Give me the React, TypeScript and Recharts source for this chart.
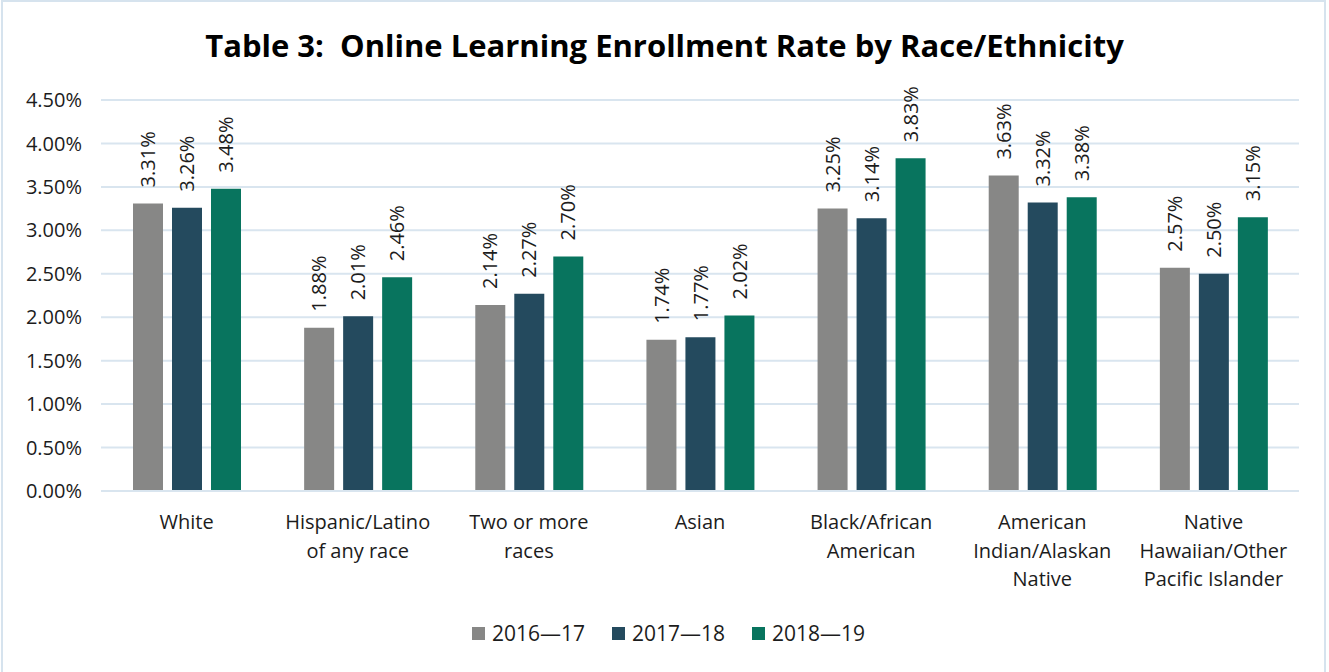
import { BarChart, Bar, XAxis, YAxis, CartesianGrid, Legend, LabelList } from "recharts";

const categories = [
  "White",
  "Hispanic/Latino of any race",
  "Two or more races",
  "Asian",
  "Black/African American",
  "American Indian/Alaskan Native",
  "Native Hawaiian/Other Pacific Islander",
];

// tick labels broken the way the original wraps them
const categoryLines = [
  ["White"],
  ["Hispanic/Latino", "of any race"],
  ["Two or more", "races"],
  ["Asian"],
  ["Black/African", "American"],
  ["American", "Indian/Alaskan", "Native"],
  ["Native", "Hawaiian/Other", "Pacific Islander"],
];

const seriesNames = ["2016\u201417", "2017\u201418", "2018\u201419"];
const rate2016 = [3.31, 1.88, 2.14, 1.74, 3.25, 3.63, 2.57];
const rate2017 = [3.26, 2.01, 2.27, 1.77, 3.14, 3.32, 2.5];
const rate2018 = [3.48, 2.46, 2.7, 2.02, 3.83, 3.38, 3.15];
const yTicks = [0, 0.5, 1, 1.5, 2, 2.5, 3, 3.5, 4, 4.5];

const COLORS = ["#878786", "#244a5e", "#08745e"];
const FONT = "'Open Sans', sans-serif";
const TEXT = "#1c1c1c";
const GRID = "#d9e5ef";

const data = categories.map((name, i) => ({
  name,
  s1: rate2016[i],
  s2: rate2017[i],
  s3: rate2018[i],
}));

const pct = (v: number) => `${v.toFixed(2)}%`;

function CategoryTick(props: any) {
  const { x, y, payload, index } = props;
  const lines = categoryLines[index] ?? [payload.value];
  return (
    <text x={x} y={y} textAnchor="middle" fill={TEXT} fontFamily={FONT} fontSize={20}>
      {lines.map((line: string, i: number) => (
        <tspan key={i} x={x} dy={i === 0 ? "0.72em" : 28.5}>
          {line}
        </tspan>
      ))}
    </text>
  );
}

function ValueLabel(props: any) {
  const { x, y, width, value } = props;
  const cx = x + width / 2;
  return (
    <text
      transform={`translate(${cx},${y - 16}) rotate(-90)`}
      dy="0.36em"
      textAnchor="start"
      fill={TEXT}
      fontFamily={FONT}
      fontSize={20}
    >
      {pct(value)}
    </text>
  );
}

function LegendRow() {
  return (
    <div
      style={{
        height: 50,
        display: "flex",
        alignItems: "center",
        justifyContent: "center",
        gap: 27,
        fontFamily: FONT,
        fontSize: 21,
        color: TEXT,
        paddingLeft: 38,
      }}
    >
      {seriesNames.map((s, i) => (
        <div key={s} style={{ display: "flex", alignItems: "center" }}>
          <span style={{ width: 13, height: 13, background: COLORS[i], marginRight: 7, display: "inline-block" }} />
          {s}
        </div>
      ))}
    </div>
  );
}

export default function App() {
  return (
    <div style={{ position: "absolute", left: 0, top: 0, width: 1329, height: 672, overflow: "hidden", background: "#fff" }}>
      <div
        style={{
          position: "absolute",
          left: 1,
          top: 0,
          width: 1325,
          height: 690,
          border: "2px solid #d6e3ee",
          boxSizing: "border-box",
        }}
      />
      <div
        style={{
          position: "absolute",
          left: 0,
          top: 24,
          width: 1329,
          textAlign: "center",
          fontFamily: FONT,
          fontWeight: 700,
          fontSize: 31,
          lineHeight: "normal",
          color: "#000",
          whiteSpace: "pre",
        }}
      >
        {"Table 3:  Online Learning Enrollment Rate by Race/Ethnicity"}
      </div>
      <BarChart
        width={1329}
        height={672}
        data={data}
        margin={{ top: 100, right: 30, left: 0, bottom: 14 }}
        barSize={30}
        barGap={9}
      >
        <CartesianGrid vertical={false} stroke={GRID} strokeWidth={2} />
        <XAxis
          dataKey="name"
          height={117}
          tickLine={false}
          axisLine={{ stroke: GRID, strokeWidth: 2 }}
          tickSize={0}
          tickMargin={24}
          interval={0}
          tick={<CategoryTick />}
        />
        <YAxis
          width={101}
          domain={[0, 4.5]}
          ticks={yTicks}
          tickFormatter={pct}
          axisLine={false}
          tickLine={false}
          tickSize={0}
          tickMargin={19}
          tick={{ fill: TEXT, fontFamily: FONT, fontSize: 20 }}
        />
        <Legend verticalAlign="bottom" height={50} content={() => <LegendRow />} />
        <Bar dataKey="s1" name={seriesNames[0]} fill={COLORS[0]} isAnimationActive={false}>
          <LabelList dataKey="s1" content={<ValueLabel />} />
        </Bar>
        <Bar dataKey="s2" name={seriesNames[1]} fill={COLORS[1]} isAnimationActive={false}>
          <LabelList dataKey="s2" content={<ValueLabel />} />
        </Bar>
        <Bar dataKey="s3" name={seriesNames[2]} fill={COLORS[2]} isAnimationActive={false}>
          <LabelList dataKey="s3" content={<ValueLabel />} />
        </Bar>
      </BarChart>
    </div>
  );
}
